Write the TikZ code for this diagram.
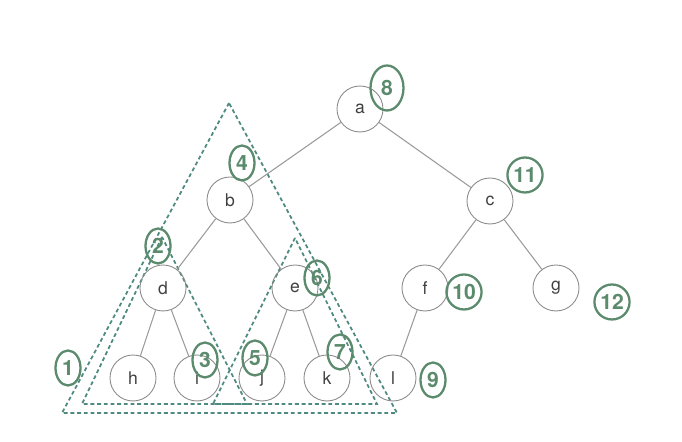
\documentclass[tikz,border=0pt]{standalone}
\usepackage{fontspec}
\setsansfont{TeX Gyre Heros}
\usepackage{tikz}
\usetikzlibrary{shapes.geometric}
\definecolor{tgray}{HTML}{8A8A8A}
\definecolor{tedge}{HTML}{9A9A9A}
\definecolor{hgreen}{HTML}{5B8A6C}
\definecolor{dteal}{HTML}{4E8A80}

\begin{document}
\begin{tikzpicture}[x=1cm, y=1cm,
  treenode/.style={circle, draw=tgray, line width=0.5pt, minimum size=0.92cm,
    inner sep=0pt, font=\sffamily\normalsize, text=black!75},
  edge/.style={draw=tedge, line width=0.6pt},
  subtree/.style={draw=dteal, line width=1pt, dash pattern=on 2.2pt off 1.6pt},
  note/.style={ellipse, draw=hgreen, line width=1.3pt, text=hgreen,
    font=\sffamily\bfseries\large, inner sep=0.4pt, minimum width=0.5cm, minimum height=0.7cm}]

  \useasboundingbox (0,0) rectangle (13.64,8.84);

  %% Subtree triangles
  \draw[subtree] (4.58,6.78) -- (1.24,0.58) -- (7.94,0.58) -- cycle;
  \draw[subtree] (3.24,4.10) -- (1.64,0.76) -- (4.94,0.76) -- cycle;
  \draw[subtree] (5.90,4.08) -- (4.26,0.76) -- (7.54,0.76) -- cycle;

  %% Tree nodes
  \node[treenode] (a) at (7.20,6.66) {a};
  \node[treenode] (b) at (4.60,4.84) {b};
  \node[treenode] (c) at (9.80,4.82) {c};
  \node[treenode] (d) at (3.26,3.08) {d};
  \node[treenode] (e) at (5.90,3.08) {e};
  \node[treenode] (f) at (8.50,3.08) {f};
  \node[treenode] (g) at (11.12,3.08) {g};
  \node[treenode] (h) at (2.66,1.28) {h};
  \node[treenode] (i) at (3.94,1.28) {i};
  \node[treenode] (j) at (5.24,1.28) {j};
  \node[treenode] (k) at (6.54,1.28) {k};
  \node[treenode] (l) at (7.86,1.28) {l};

  %% Edges
  \foreach \p/\q in {a/b, a/c, b/d, b/e, c/f, c/g, d/h, d/i, e/j, e/k, f/l}{
    \draw[edge] (\p) -- (\q);
  }

  %% Visit order notes
  \node[note] (n1)  at (1.36,1.48)  {1};
  \node[note] (n2)  at (3.16,3.92)  {2};
  \node[note] (n3)  at (4.10,1.64)  {3};
  \node[note] (n4)  at (4.84,5.58)  {4};
  \node[note] (n5)  at (5.10,1.68)  {5};
  \node[note] (n6)  at (6.34,3.28)  {6};
  \node[note] (n7)  at (6.80,1.80)  {7};
  \node[note, minimum width=0.66cm, minimum height=0.9cm] (n8) at (7.74,7.08) {8};
  \node[note] (n9)  at (8.66,1.24)  {9};
  \node[note] (n10) at (9.28,3.00)  {10};
  \node[note] (n11) at (10.50,5.34) {11};
  \node[note] (n12) at (12.24,2.80) {12};

\end{tikzpicture}
\end{document}
